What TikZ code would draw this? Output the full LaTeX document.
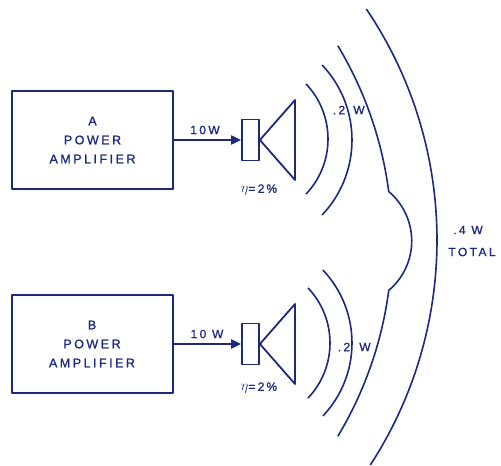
\documentclass[tikz,border=0pt]{standalone}
\usepackage{fontspec}
\setmainfont{Liberation Sans}
\newfontfamily\lbl[LetterSpace=20,FakeBold=1.2]{Liberation Sans}
\usetikzlibrary{arrows.meta}
\definecolor{ink}{RGB}{30,40,125}
\begin{document}
\begin{tikzpicture}[x=1pt,y=1pt,line join=round,
  amp/.style={draw=ink,line width=2pt,minimum width=161pt,minimum height=98pt,inner sep=0pt,align=center,text=ink,font=\lbl\fontsize{12.5}{19}\selectfont},
  spk/.style={draw=ink,line width=1.8pt,minimum width=17pt,minimum height=41pt,inner sep=0pt},
  cone/.style={draw=ink,line width=1.8pt},
  feed/.style={draw=ink,line width=2pt,-{Triangle[length=10pt,width=9pt]}},
  wave/.style={draw=ink,line width=1.6pt},
  lab/.style={text=ink,inner sep=0pt,font=\lbl\fontsize{12}{14}\selectfont},
  eff/.style={text=ink,inner sep=0pt,font=\lbl\fontsize{12}{14}\selectfont}]
\useasboundingbox (0,0) rectangle (501,466);
% amplifiers
\node[amp] (ampA) at (92.5,326) {A\\POWER\\AMPLIFIER};
\node[amp] (ampB) at (92,122) {B\\POWER\\AMPLIFIER};
% speakers
\node[spk] (spkA) at (250.5,326) {};
\node[spk] (spkB) at (250.5,122) {};
\coordinate (cAt) at (295,366);
\coordinate (cAb) at (295,286);
\coordinate (cBt) at (295,162);
\coordinate (cBb) at (295,82);
\draw[cone] (spkA.east) -- (cAt) -- (cAb) -- cycle;
\draw[cone] (spkB.east) -- (cBt) -- (cBb) -- cycle;
% feeds
\draw[feed] (ampA.east) -- (spkA.west);
\draw[feed] (ampB.east) -- (spkB.west);
\node[lab] (pA) at (205,336) {10W};
\node[lab] (pB) at (207,132) {10 W};
\node[eff] (eA) at (259,276) {{\fontsize{15}{15}\selectfont$\eta$}=2\,\%};
\node[eff] (eB) at (259,78) {{\fontsize{15}{15}\selectfont$\eta$}=2\,\%};
% waves speaker A
\draw[wave] ([shift={(248,327)}]-43.5:80) arc (-43.5:43.5:80);
\draw[wave] ([shift={(243,326)}]-43.5:109) arc (-43.5:43.5:109);
% waves speaker B
\draw[wave] ([shift={(250,123)}]-43.5:80) arc (-43.5:43.5:80);
\draw[wave] ([shift={(246,123)}]-43.5:106) arc (-43.5:43.5:106);
% combined wave
\draw[wave] ([shift={(13,225)}]31:379) arc (31:7.5:379) arc (49.83:-49.83:64.74) arc (-7.5:-31:379);
% outer wave
\draw[wave] ([shift={(24,226)}]34:413) arc (34:-33:413);
% power labels
\node[lab] (a2) at (339,356) {.2};
\node[lab] (aW) at (359,356) {W};
\node[lab] (b2) at (344,119) {.2};
\node[lab] (bW) at (365,119) {W};
\node[lab] (tot1) at (468,236) {.4 W};
\node[lab] (tot2) at (472,214) {TOTAL};
\end{tikzpicture}
\end{document}
